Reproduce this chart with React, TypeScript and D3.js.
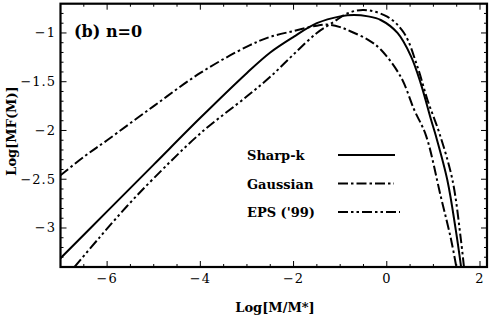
import React from "react";
import * as d3 from "d3";

// values: [Log(M/M*), Log(M f(M))]
const sharpK: [number, number][] = [
  [-7, -3.31], [-6, -2.83], [-5, -2.35], [-4, -1.87], [-3, -1.41], [-2.5, -1.2],
  [-2, -1.04], [-1.5, -0.9], [-1, -0.83], [-0.7, -0.815], [-0.4, -0.83], [-0.13, -0.867],
  [0.23, -1.0], [0.52, -1.24], [0.73, -1.52], [0.95, -1.89], [1.05, -2.05], [1.3, -2.51],
  [1.48, -3.02], [1.6, -3.42],
];
const gaussian: [number, number][] = [
  [-7, -2.46], [-6.5, -2.27], [-6, -2.1], [-5, -1.75], [-4, -1.41], [-3, -1.14],
  [-2.5, -1.04], [-2, -0.98], [-1.5, -0.925], [-1.25, -0.915], [-1, -0.94], [-0.77, -0.985],
  [-0.4, -1.07], [-0.13, -1.17], [0.3, -1.45], [0.59, -1.79], [0.84, -2.05], [1.16, -2.68],
  [1.38, -3.12], [1.5, -3.42],
];
const eps99: [number, number][] = [
  [-6.7, -3.4], [-6.15, -3.09], [-5.58, -2.78], [-5, -2.49], [-4, -2.03], [-3, -1.65],
  [-2.5, -1.45], [-2, -1.22], [-1.5, -1.0], [-1.13, -0.884], [-0.85, -0.8], [-0.49, -0.764],
  [0.01, -0.833], [0.37, -1.0], [0.66, -1.35], [0.875, -1.69], [1.13, -2.03], [1.41, -2.51],
  [1.59, -3.12], [1.66, -3.42],
];

const xTicks = [-6, -4, -2, 0, 2];
const yTicks = [-1, -1.5, -2, -2.5, -3];
const legendNames = ["Sharp-k", "Gaussian", "EPS ('99)"];
const dashes = ["none", "10,3,2.5,3", "10,3,2.5,3,2.5,3"];

const W = 491;
const H = 322;
const left = 60.5, right = 487, top = 3.7, bottom = 267;
const serif = "DejaVu Serif";

export default function App() {
  const x = d3.scaleLinear().domain([-7, 2.15]).range([left, right]);
  const y = d3.scaleLinear().domain([-3.4, -0.7]).range([bottom, top]);
  const line = d3
    .line<[number, number]>()
    .x((d) => x(d[0]))
    .y((d) => y(d[1]))
    .curve(d3.curveCatmullRom.alpha(0.5));

  const xMinor = d3.range(-7, 2.2, 0.5).filter((v) => x(v) > left + 1 && x(v) < right - 1);
  const yMinor = d3.range(-3.4, -0.69, 0.1).filter((v) => y(v) < bottom - 1 && y(v) > top + 1);
  const series = [sharpK, gaussian, eps99];
  const fmt = (v: number) => (v < 0 ? "\u2212" + Math.abs(v) : String(v));

  return (
    <svg width={W} height={H} style={{ position: "absolute", left: 0, top: 0, background: "#fff" }}>
      <defs>
        <clipPath id="plot">
          <rect x={left} y={top} width={right - left} height={bottom - top} />
        </clipPath>
      </defs>
      <rect width={W} height={H} fill="#fff" />
      <g clipPath="url(#plot)">
        {series.map((s, i) => (
          <path key={i} d={line(s) ?? ""} fill="none" stroke="#000" strokeWidth={2} strokeDasharray={dashes[i]} />
        ))}
      </g>
      {/* frame ticks */}
      <g stroke="#000" strokeWidth={1}>
        {xMinor.map((v, i) => {
          const major = xTicks.includes(v);
          const len = major ? 6 : 3;
          return (
            <g key={i}>
              <line x1={x(v)} x2={x(v)} y1={bottom} y2={bottom - len} />
              <line x1={x(v)} x2={x(v)} y1={top} y2={top + len} />
            </g>
          );
        })}
        {yMinor.map((v, i) => {
          const major = yTicks.some((t) => Math.abs(t - v) < 1e-6);
          const len = major ? 6 : 3;
          return (
            <g key={i}>
              <line x1={left} x2={left + len} y1={y(v)} y2={y(v)} />
              <line x1={right} x2={right - len} y1={y(v)} y2={y(v)} />
            </g>
          );
        })}
      </g>
      <rect x={left} y={top} width={right - left} height={bottom - top} fill="none" stroke="#000" strokeWidth={2.2} />
      <g fontFamily={serif} fontSize={13} letterSpacing={1} fill="#000">
        {xTicks.map((t) => (
          <text key={t} x={x(t)} y={283} textAnchor="middle">{fmt(t)}</text>
        ))}
        {yTicks.map((t) => (
          <text key={t} x={56} y={y(t) + 4.5} textAnchor="end">{fmt(t)}</text>
        ))}
      </g>
      <text x={74} y={37} fontFamily={serif} fontSize={16} fontWeight="bold" fill="#000">(b) n=0</text>
      <text x={275} y={312} textAnchor="middle" fontFamily={serif} fontWeight="bold" fontSize={13} fill="#000">
        Log[M/M*]
      </text>
      <text
        transform={`translate(16,131) rotate(-90)`}
        textAnchor="middle"
        fontFamily={serif}
        fontWeight="bold"
        fontSize={13}
        fill="#000"
      >
        Log[MF(M)]
      </text>
      {legendNames.map((n, i) => {
        const ly = 155 + i * 28.5;
        return (
          <g key={n}>
            <text x={247} y={ly + 5} fontFamily={serif} fontWeight="bold" fontSize={13} fill="#000">{n}</text>
            <line x1={338} x2={i === 0 ? 395 : i === 1 ? 394 : 400} y1={ly} y2={ly} stroke="#000" strokeWidth={2} strokeDasharray={dashes[i]} />
          </g>
        );
      })}
    </svg>
  );
}
